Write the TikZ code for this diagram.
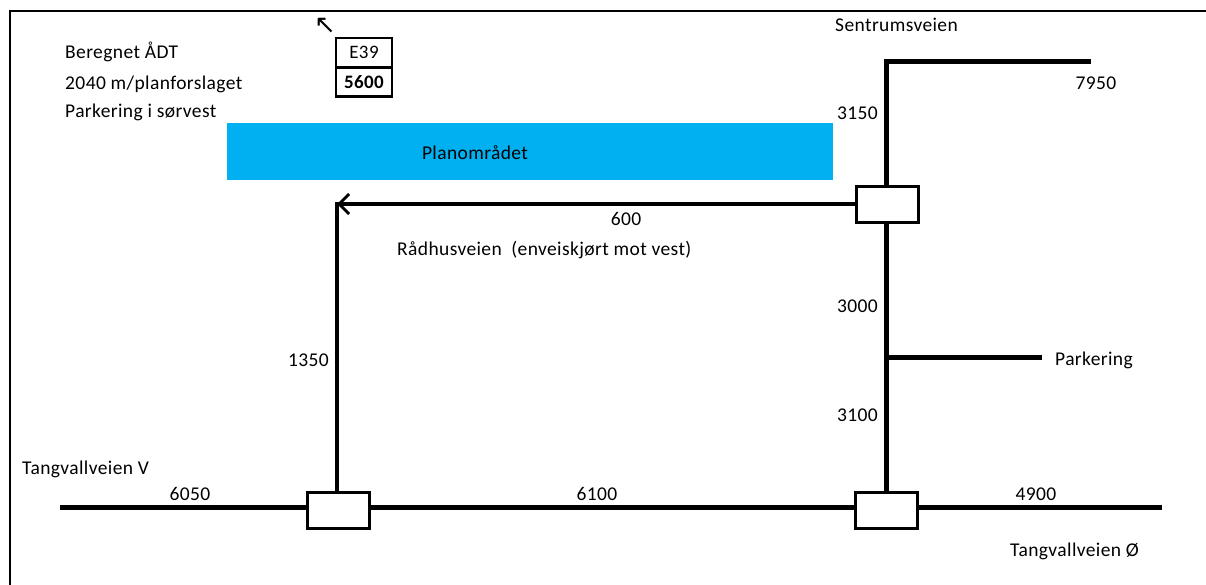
\documentclass[tikz,border=0pt]{standalone}
\usepackage{fontspec}
\setmainfont{Carlito}[LetterSpace=2]
\newfontfamily\symfont{DejaVu Sans}
\usetikzlibrary{arrows.meta}
\definecolor{planblue}{HTML}{00B0F0}
\begin{document}
\begin{tikzpicture}[x=1pt,y=-1pt,
  lbl/.style={font=\fontsize{19.5}{22}\selectfont, inner sep=0pt},
  road/.style={line width=5pt},
  junc/.style={draw, line width=3pt, fill=white, minimum width=62pt, minimum height=36pt, inner sep=0pt},
  valbox/.style={draw, line width=2.2pt, minimum width=56pt, minimum height=29pt, inner sep=0pt, font=\fontsize{19}{22}\selectfont},
  frame/.style={line width=2pt}
]
\useasboundingbox (0,0) rectangle (1206,585);
% frame
\coordinate (ftl) at (10,11);
\coordinate (ftr) at (1206,11);
\coordinate (fbl) at (10,585);
\draw[frame] (ftr) -- (ftl) -- (fbl);

% legend
\node[lbl, anchor=west] (t1) at (65,52) {Beregnet ÅDT};
\node[lbl, anchor=west] (t2) at (65,84) {2040 m/planforslaget};
\node[lbl, anchor=west] (t3) at (65,112) {Parkering i sørvest};
\node[valbox] (e39) at (364,52.5) {E39};
\node[valbox, font=\fontsize{19}{22}\selectfont\bfseries] (v5600) at (364,82) {5600};
\node[inner sep=0pt, font=\symfont\fontsize{26}{28}\selectfont] (narrow) at (325,26) {↖};

% plan area
\node[fill=planblue, minimum width=606pt, minimum height=57pt, inner sep=0pt] (plan) at (530,151.5) {};
\node[lbl] (plantxt) at (475,153) {Planområdet};

% junctions
\node[junc] (jne) at (887,204.5) {};
\node[junc] (jsw) at (338,510) {};
\node[junc] (jse) at (886.5,510) {};

% coordinates
\coordinate (ntop) at (886,62);
\coordinate (nend) at (1088,62);
\coordinate (park) at (886,357);
\coordinate (parkend) at (1042,357);
\coordinate (corner) at (337,204);
\coordinate (wend) at (60,507);
\coordinate (eend) at (1162,507);

% roads
\draw[road, line cap=rect] (nend) -- (ntop) -- (ntop |- jne.north);
\draw[road] (ntop |- jne.south) -- (ntop |- jse.north);
\draw[road] (park) -- (parkend);
\draw[line width=4pt, -{Straight Barb[length=10pt,width=20pt,line width=3pt]}] (corner -| jne.west) -- (corner);
\draw[line width=4pt] (corner) ++(0,-2) -- (corner |- jsw.north);
\draw[road] (wend) -- (wend -| jsw.west);
\draw[road] (wend -| jsw.east) -- (wend -| jse.west);
\draw[road] (wend -| jse.east) -- (eend);

% labels
\node[lbl, anchor=west] (sentrum) at (835,25) {Sentrumsveien};
\node[lbl] (n7950) at (1096,83) {7950};
\node[lbl, anchor=east] (n3150) at (878,113) {3150};
\node[lbl] (n600) at (626,219) {600};
\node[lbl, anchor=west] (radhus) at (397,250) {Rådhusveien\ \ (enveiskjørt mot vest)};
\node[lbl, anchor=east] (n3000) at (878,306) {3000};
\node[lbl, anchor=west] (parktxt) at (1055,360) {Parkering};
\node[lbl, anchor=east] (n3100) at (878,415) {3100};
\node[lbl, anchor=east] (n1350) at (329,360) {1350};
\node[lbl, anchor=west] (tangv) at (22,469) {Tangvallveien V};
\node[lbl] (n6050) at (190,494) {6050};
\node[lbl] (n6100) at (597,494) {6100};
\node[lbl] (n4900) at (1036,494) {4900};
\node[lbl, anchor=west] (tango) at (1010,551) {Tangvallveien Ø};
\end{tikzpicture}
\end{document}
